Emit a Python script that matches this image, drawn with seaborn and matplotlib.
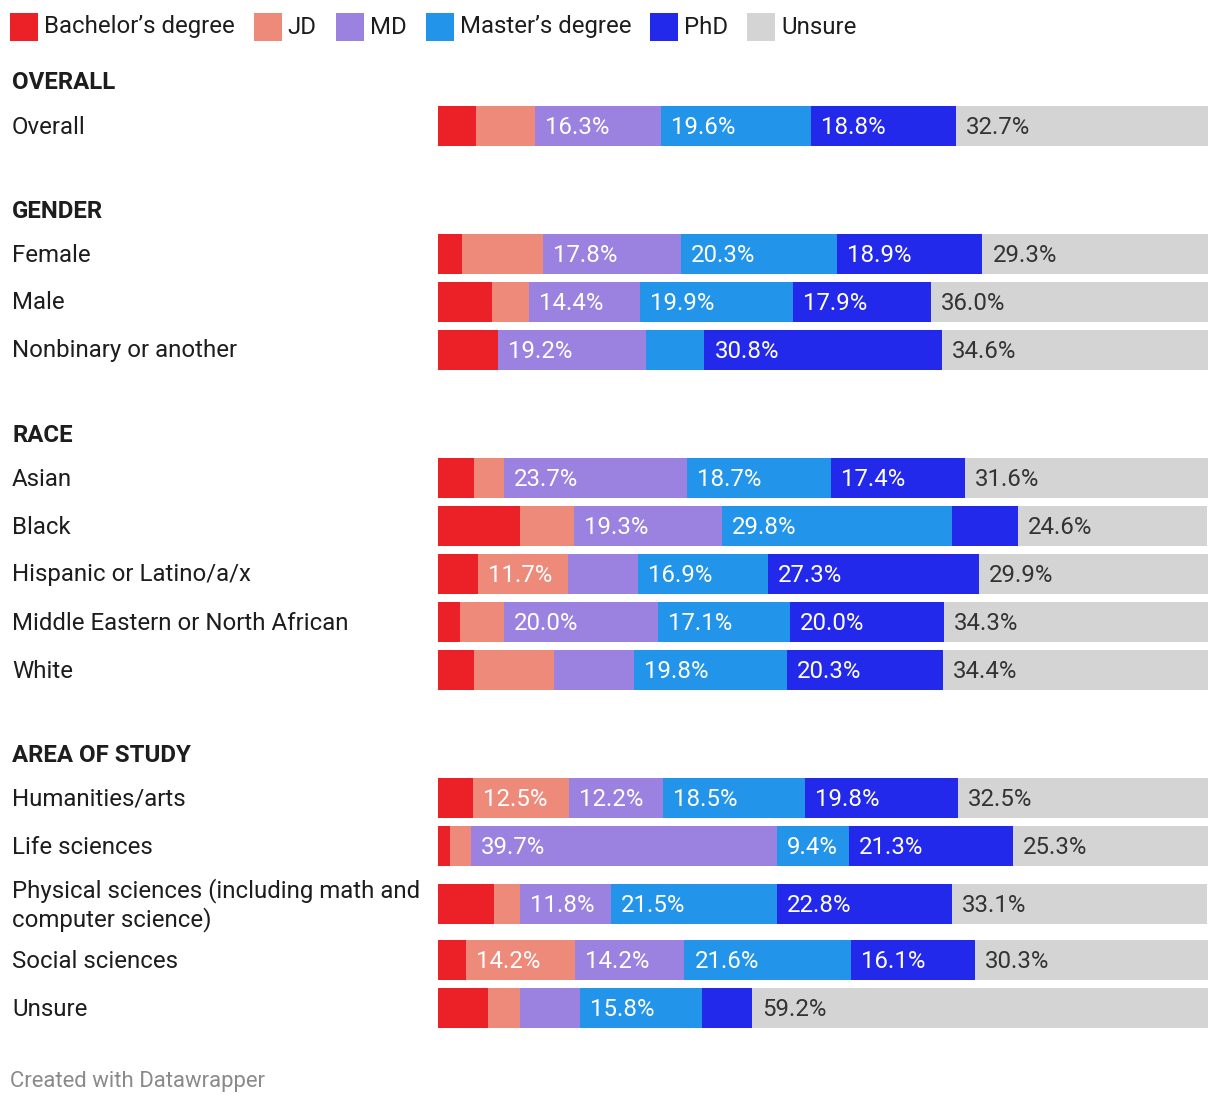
import matplotlib
matplotlib.use("Agg")
import matplotlib.pyplot as plt
from matplotlib.patches import Rectangle
import pandas as pd
import seaborn as sns

# ---------------- data ----------------
degrees = ["Bachelor\u2019s degree", "JD", "MD", "Master\u2019s degree", "PhD", "Unsure"]
colors = ["#EC2128", "#ED8A7A", "#9B81E0", "#2294EA", "#2329EA", "#D4D4D4"]

groups = ["OVERALL", "GENDER", "RACE", "AREA OF STUDY"]
group_rows = [
    ["Overall"],
    ["Female", "Male", "Nonbinary or another"],
    ["Asian", "Black", "Hispanic or Latino/a/x", "Middle Eastern or North African", "White"],
    ["Humanities/arts", "Life sciences",
     "Physical sciences (including math and\ncomputer science)", "Social sciences", "Unsure"],
]

bachelor = [4.9, 3.1, 7.0, 7.8, 4.7, 10.6, 5.2, 2.9, 4.7, 4.5, 1.5, 7.3, 3.6, 6.5]
jd       = [7.7, 10.6, 4.8, 0.0, 3.9, 7.0, 11.7, 5.7, 10.4, 12.5, 2.8, 3.4, 14.2, 4.2]
md       = [16.3, 17.8, 14.4, 19.2, 23.7, 19.3, 9.1, 20.0, 10.4, 12.2, 39.7, 11.8, 14.2, 7.8]
master   = [19.6, 20.3, 19.9, 7.6, 18.7, 29.8, 16.9, 17.1, 19.8, 18.5, 9.4, 21.5, 21.6, 15.8]
phd      = [18.8, 18.9, 17.9, 30.8, 17.4, 8.6, 27.3, 20.0, 20.3, 19.8, 21.3, 22.8, 16.1, 6.5]
unsure   = [32.7, 29.3, 36.0, 34.6, 31.6, 24.6, 29.9, 34.3, 34.4, 32.5, 25.3, 33.1, 30.3, 59.2]

series = [bachelor, jd, md, master, phd, unsure]

# ---------------- layout (pixels) ----------------
W, H = 1220, 1104
BAR_X0, BAR_X1 = 438, 1208
BAR_H = 40
PITCH = 48
first_header_y = 81
header_to_row = 45
group_gap = 83
two_line_before, two_line_after = 10, 8

header_y = []
row_y = []
row_labels = []
y = first_header_y
for gi, (g, rows) in enumerate(zip(groups, group_rows)):
    header_y.append(y)
    y += header_to_row
    for ri, r in enumerate(rows):
        if ri > 0:
            y += PITCH
        if "\n" in r:
            y += two_line_before
        row_y.append(y)
        row_labels.append(r)
        if "\n" in r:
            y += two_line_after
    y += group_gap

n = len(row_labels)
records = []
for i in range(n):
    cum = 0.0
    for d, s in zip(degrees, series):
        v = s[i]
        records.append(dict(row=row_labels[i], ypos=row_y[i], degree=d,
                            value=v, start=cum, end=cum + v))
        cum += v
df = pd.DataFrame(records)

# ---------------- figure ----------------
sns.set_theme(style="white")
plt.rcParams["font.family"] = ["Roboto", "DejaVu Sans"]

fig = plt.figure(figsize=(W / 100, H / 100), dpi=100)
fig.patch.set_facecolor("white")
ax = fig.add_axes([BAR_X0 / W, 0, (BAR_X1 - BAR_X0) / W, 1])

rev_deg = degrees[::-1]
pal = dict(zip(degrees, colors))
sns.barplot(data=df, x="end", y="ypos", hue="degree", hue_order=rev_deg,
            palette=pal, orient="h", native_scale=True, dodge=False,
            width=BAR_H / PITCH, saturation=1, errorbar=None, legend=False,
            linewidth=0, ax=ax)

ax.set_xlim(0, 100)
ax.set_ylim(H, 0)
ax.axis("off")

FS = 17.3
TXT = "#1d1d1d"
px_per_unit = (BAR_X1 - BAR_X0) / 100
pad = 10 / px_per_unit
for _, r in df.iterrows():
    lab = f"{r['value']:.1f}%"
    seg_px = r["value"] * px_per_unit
    if r["value"] > 0 and seg_px >= 17.9 * len(lab):
        col = "#333333" if r["degree"] == "Unsure" else "white"
        ax.text(r["start"] + pad, r["ypos"] + 1, lab,
                ha="left", va="center", fontsize=FS, color=col)

# row labels and headers
for lab, yy in zip(row_labels, row_y):
    fig.text(12 / W, 1 - (yy + 1) / H, lab, ha="left", va="center",
             fontsize=FS, color=TXT, linespacing=1.22)
for g, yy in zip(groups, header_y):
    fig.text(12 / W, 1 - (yy + 2) / H, g, ha="left", va="center",
             fontsize=FS, fontweight="bold", color=TXT)

# legend
fig.canvas.draw()
renderer = fig.canvas.get_renderer()
lx = 10
for d, c in zip(degrees, colors):
    fig.add_artist(Rectangle((lx / W, 1 - 41 / H), 28 / W, 28 / H,
                             transform=fig.transFigure, facecolor=c,
                             edgecolor="none"))
    t = fig.text((lx + 34) / W, 1 - 27 / H, d, ha="left", va="center",
                 fontsize=FS, color=TXT)
    bb = t.get_window_extent(renderer=renderer)
    lx = bb.x1 + 19

fig.text(10 / W, 1 - 1081 / H, "Created with Datawrapper", ha="left",
         va="center", fontsize=15.9, color="#8a8a8a")

fig.savefig("out.png", dpi=100, facecolor="white")
